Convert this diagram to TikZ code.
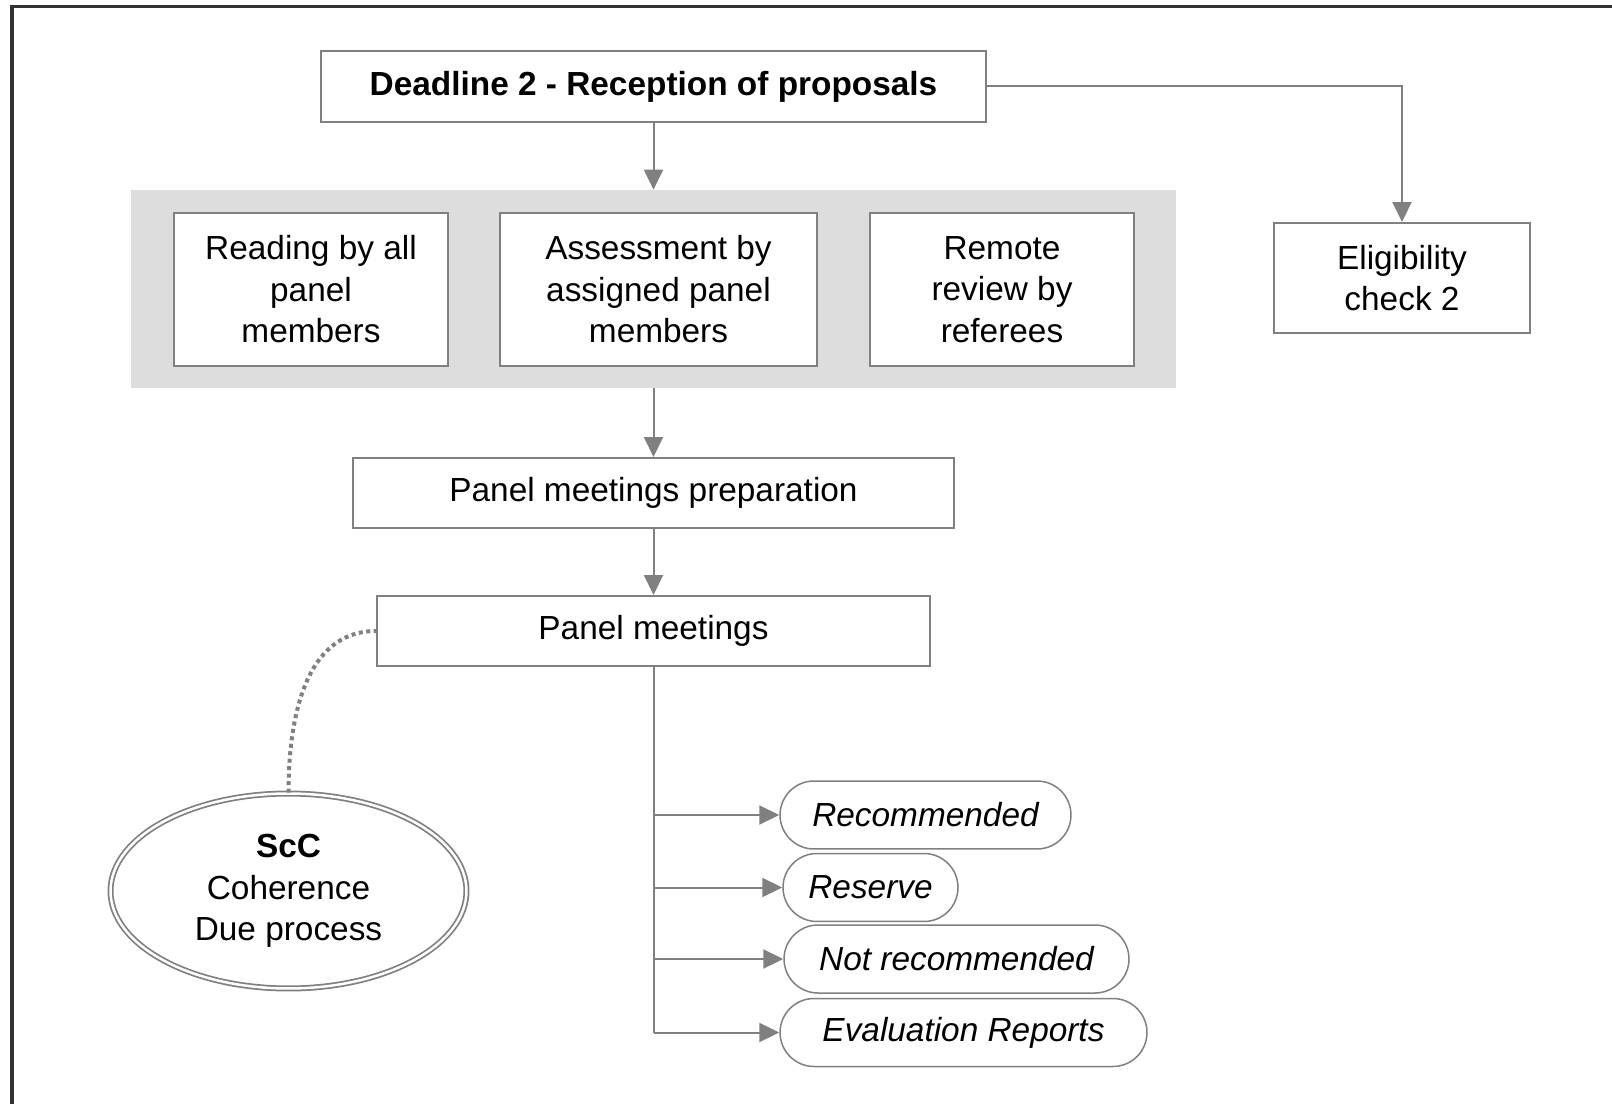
\documentclass[tikz,border=0pt]{standalone}
\usepackage{fontspec}
\setmainfont{Liberation Sans}
\usetikzlibrary{arrows.meta,shapes.geometric}

\definecolor{linegray}{RGB}{128,128,128}
\definecolor{bandgray}{RGB}{221,221,221}
\newcommand{\boxfont}{\fontsize{19}{23.6}\selectfont}

\begin{document}
\begin{tikzpicture}[x=0.02cm, y=-0.02cm, font=\boxfont,
    box/.style={draw=linegray, line width=0.04cm, fill=white, align=center, inner sep=0pt},
    pill/.style={draw=linegray, line width=0.03cm, fill=white, rounded corners=0.68cm,
      minimum height=1.36cm, inner sep=0pt, font=\boxfont\itshape},
    arr/.style={draw=linegray, line width=0.04cm, -{Triangle[length=0.4cm,width=0.38cm]}}]
    \useasboundingbox (0,0) rectangle (1612,1104);
    \draw[line width=0.07cm, black!80] (12,1104) -- (12,6.5) -- (1612,6.5);

    \node[box, minimum width=13.32cm, minimum height=1.42cm, font=\boxfont\bfseries] (deadline) at (653.5,86.5) {Deadline 2 - Reception of proposals};
    \node[fill=bandgray, minimum width=20.9cm, minimum height=3.96cm, inner sep=0pt] (band) at (653.5,289) {};
    \node[box, minimum width=5.48cm, minimum height=3.08cm] (reading) at (311,289.5) {Reading by all\\panel\\members};
    \node[box, minimum width=6.34cm, minimum height=3.08cm] (assess) at (658.5,289.5) {Assessment by\\assigned panel\\members};
    \node[box, minimum width=5.28cm, minimum height=3.08cm] (remote) at (1002,289.5) {Remote\\review by\\referees};
    \node[box, minimum width=5.12cm, minimum height=2.2cm] (elig) at (1402,278) {Eligibility\\check 2};
    \node[box, minimum width=12.02cm, minimum height=1.4cm] (prep) at (653.5,493) {Panel meetings preparation};
    \node[box, minimum width=11.06cm, minimum height=1.4cm] (panel) at (653.5,631) {Panel meetings};
    \node[ellipse, draw=linegray, double=white, double distance=0.05cm, line width=0.035cm,
      minimum width=7.12cm, minimum height=3.9cm, inner sep=0pt, align=center] (scc) at (288.5,891) {\textbf{ScC}\\Coherence\\Due process};

    \node[pill, minimum width=5.82cm] (rec) at (925.5,815) {Recommended};
    \node[pill, minimum width=3.5cm] (res) at (870.5,887.5) {Reserve};
    \node[pill, minimum width=6.9cm] (notrec) at (956.5,959) {Not recommended};
    \node[pill, minimum width=7.34cm] (evalrep) at (963.5,1032.5) {Evaluation Reports};

    \draw[arr] (deadline.south) -- (band.north);
    \draw[arr] (deadline.east) -| (elig.north);
    \draw[arr] (band.south) -- (prep.north);
    \draw[arr] (prep.south) -- (panel.north);
    \draw[linegray, line width=0.04cm] (panel.south) -- (panel.south |- evalrep.west);
    \foreach \p in {rec,res,notrec,evalrep}
      \draw[arr] (panel.south |- \p.west) -- (\p.west);
    \draw[linegray, line width=0.08cm, dash pattern=on 0.08cm off 0.07cm] (scc.north) to[out=90,in=180] (panel.west);
\end{tikzpicture}
\end{document}
